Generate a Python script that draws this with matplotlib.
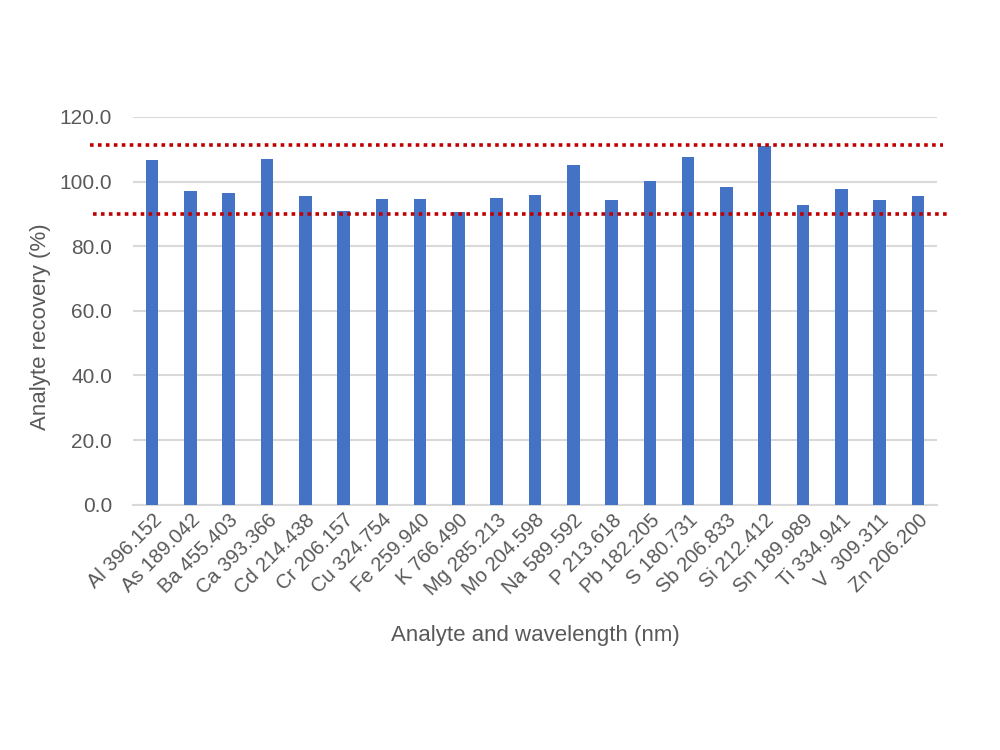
import matplotlib
matplotlib.use("Agg")
import matplotlib.pyplot as plt
import matplotlib.transforms as mtransforms

categories = ["Al 396.152", "As 189.042", "Ba 455.403", "Ca 393.366", "Cd 214.438",
              "Cr 206.157", "Cu 324.754", "Fe 259.940", "K 766.490", "Mg 285.213",
              "Mo 204.598", "Na 589.592", "P 213.618", "Pb 182.205", "S 180.731",
              "Sb 206.833", "Si 212.412", "Sn 189.989", "Ti 334.941", "V  309.311",
              "Zn 206.200"]
recovery = [106.7, 97.1, 96.5, 107.0, 95.6, 90.9, 94.6, 94.6, 90.6, 95.0, 95.9,
            105.2, 94.3, 100.2, 107.6, 98.4, 111.0, 92.8, 97.7, 94.3, 95.6]
upper_limit = 111.4
lower_limit = 90.1
yticks = [0, 20, 40, 60, 80, 100, 120]

plt.rcParams['font.family'] = ['Liberation Sans', 'DejaVu Sans']
fig = plt.figure(figsize=(10, 7.5), dpi=100)
ax = fig.add_axes([0.133, 0.327, 0.804, 0.517])

x = range(len(categories))
ax.bar(x, recovery, width=0.33, color="#4472C4", zorder=3)
ax.set_xlim(-0.5, len(categories) - 0.5)
ax.set_ylim(0, 120)
ax.set_yticks(yticks)
ax.set_yticklabels([f"{v:.1f}" for v in yticks], fontsize=15, color="#595959")
ax.set_xticks(list(x))
ax.set_xticklabels(categories, rotation=45, ha="right", rotation_mode="anchor",
                   fontsize=14.5, color="#595959")
ax.tick_params(axis="y", length=0, pad=15)
ax.tick_params(axis="x", length=0, pad=4)
ax.grid(axis="y", color="#d9d9d9", linewidth=1.5, zorder=0)
for s in ["top", "right", "left"]:
    ax.spines[s].set_visible(False)
ax.spines["bottom"].set_color("#d9d9d9")
ax.spines["bottom"].set_linewidth(1.5)

ax.set_ylabel("Analyte recovery (%)", fontsize=16, color="#595959")
ax.yaxis.set_label_coords(-0.102, 0.46)
ax.set_xlabel("Analyte and wavelength (nm)", fontsize=16, color="#595959", labelpad=19)

trans = mtransforms.blended_transform_factory(ax.transAxes, ax.transData)
ax.plot([-0.053, 1.007], [upper_limit, upper_limit], transform=trans, color="#C00000",
        linestyle=(0, (1, 1.2)), linewidth=2.6, clip_on=False, zorder=4)
ax.plot([-0.05, 1.012], [lower_limit, lower_limit], transform=trans, color="#C00000",
        linestyle=(0, (1, 1.2)), linewidth=2.6, clip_on=False, zorder=4)

fig.savefig("out.png", dpi=100)
